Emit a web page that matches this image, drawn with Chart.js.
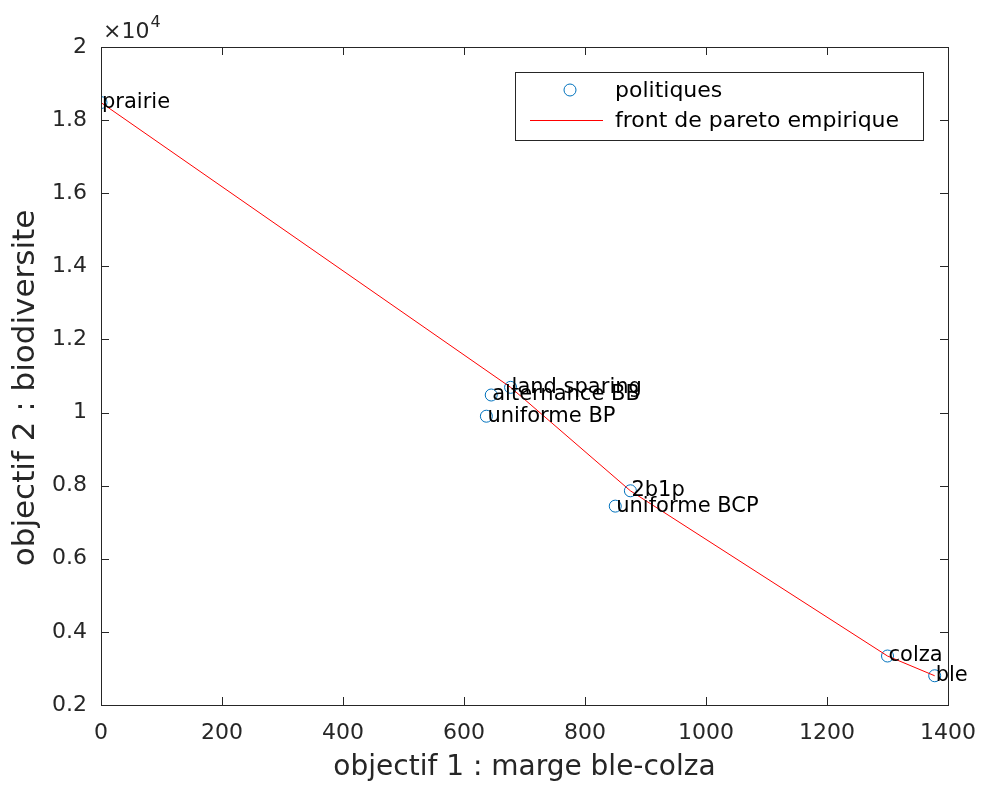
<!DOCTYPE html>
<html>
<head>
<meta charset="utf-8">
<script src="https://cdn.jsdelivr.net/npm/chart.js@4"></script>
<style>
  html, body { margin: 0; padding: 0; background: #fff; }
  #wrap { width: 983px; height: 787px; }
</style>
</head>
<body>
<div id="wrap"><canvas id="chart"></canvas></div>
<script>
// ── Data ─────────────────────────────────────────────────

const policyNames = ["prairie", "land sparing", "alternance BB", "uniforme BP", "2b1p", "uniforme BCP", "colza", "ble"];
const policyMarge = [0, 677, 645, 637, 875, 850, 1300, 1378];
const policyBiodiv = [18480, 10690, 10480, 9900, 7860, 7440, 3340, 2800];

const frontMarge = [0, 677, 875, 1300, 1378];
const frontBiodiv = [18480, 10690, 7860, 3340, 2800];

const xTicks = [0, 200, 400, 600, 800, 1000, 1200, 1400];
const yTicks = [2000, 4000, 6000, 8000, 10000, 12000, 14000, 16000, 18000, 20000];

const FONT = "'DejaVu Sans', sans-serif";
const AXIS_COLOR = "#262626";
const BLUE = "#0072BD";
const RED = "#FF0000";

// ── Plugins ──────────────────────────────────────────────

// box around the axes + inward ticks on all four sides (matlab style)
const boxPlugin = {
  id: "box",
  afterDatasetsDraw(chart) {
    const { ctx, chartArea: a, scales: { x, y } } = chart;
    const len = 8;
    ctx.save();
    ctx.strokeStyle = AXIS_COLOR;
    ctx.lineWidth = 1;
    ctx.beginPath();
    for (const t of xTicks) {
      const px = Math.round(x.getPixelForValue(t)) + 0.5;
      ctx.moveTo(px, a.bottom); ctx.lineTo(px, a.bottom - len);
      ctx.moveTo(px, a.top);    ctx.lineTo(px, a.top + len);
    }
    for (const t of yTicks) {
      const py = Math.round(y.getPixelForValue(t)) + 0.5;
      ctx.moveTo(a.left, py);  ctx.lineTo(a.left + len, py);
      ctx.moveTo(a.right, py); ctx.lineTo(a.right - len, py);
    }
    ctx.stroke();
    ctx.strokeRect(Math.round(a.left) + 0.5, Math.round(a.top) + 0.5,
                   Math.round(a.right - a.left), Math.round(a.bottom - a.top));

    // x10^4 exponent above the y axis
    ctx.fillStyle = AXIS_COLOR;
    ctx.textAlign = "left";
    ctx.textBaseline = "alphabetic";
    ctx.font = `22px ${FONT}`;
    ctx.fillText("\u00d710", a.left + 2, a.top - 9);
    const w = ctx.measureText("\u00d710").width;
    ctx.font = `16px ${FONT}`;
    ctx.fillText("4", a.left + 3 + w, a.top - 20);

    // y axis title (drawn by hand so it can sit a bit below the axis centre)
    ctx.save();
    ctx.translate(26, 388);
    ctx.rotate(-Math.PI / 2);
    ctx.textAlign = "center";
    ctx.textBaseline = "middle";
    ctx.font = `31px ${FONT}`;
    ctx.fillText("objectif 2 : biodiversite", 0, 0);
    ctx.restore();
    ctx.restore();
  }
};

// text labels next to each policy point
const labelPlugin = {
  id: "pointLabels",
  afterDatasetsDraw(chart) {
    const { ctx, scales: { x, y } } = chart;
    ctx.save();
    ctx.font = `21px ${FONT}`;
    ctx.fillStyle = "#000";
    ctx.textAlign = "left";
    ctx.textBaseline = "middle";
    policyNames.forEach((name, i) => {
      ctx.fillText(name, x.getPixelForValue(policyMarge[i]) + 1, y.getPixelForValue(policyBiodiv[i]));
    });
    ctx.restore();
  }
};

// legend box in the upper right
const legendPlugin = {
  id: "matLegend",
  afterDraw(chart) {
    const { ctx } = chart;
    const ds = chart.data.datasets;
    const bx = 515, by = 72, bw = 408, bh = 68;
    ctx.save();
    ctx.fillStyle = "#fff";
    ctx.fillRect(bx, by, bw, bh);
    ctx.strokeStyle = AXIS_COLOR;
    ctx.lineWidth = 1;
    ctx.strokeRect(bx + 0.5, by + 0.5, bw, bh);

    // marker sample
    ctx.strokeStyle = ds[0].borderColor;
    ctx.beginPath();
    ctx.arc(570, 90, 6, 0, Math.PI * 2);
    ctx.stroke();
    // line sample
    ctx.strokeStyle = ds[1].borderColor;
    ctx.beginPath();
    ctx.moveTo(530, 120.5); ctx.lineTo(603, 120.5);
    ctx.stroke();

    ctx.fillStyle = "#000";
    ctx.font = `22px ${FONT}`;
    ctx.textAlign = "left";
    ctx.textBaseline = "middle";
    ctx.fillText(ds[0].label, 615, 91);
    ctx.fillText(ds[1].label, 615, 121);
    ctx.restore();
  }
};

// ── Chart ────────────────────────────────────────────────

new Chart(document.getElementById("chart"), {
  type: "scatter",
  data: {
    datasets: [
      {
        label: "politiques",
        data: policyMarge.map((v, i) => ({ x: v, y: policyBiodiv[i] })),
        borderColor: BLUE,
        backgroundColor: "rgba(0,0,0,0)",
        pointStyle: "circle",
        pointRadius: 6,
        pointHoverRadius: 6,
        borderWidth: 1,
        showLine: false,
        order: 1
      },
      {
        label: "front de pareto empirique",
        data: frontMarge.map((v, i) => ({ x: v, y: frontBiodiv[i] })),
        borderColor: RED,
        backgroundColor: RED,
        borderWidth: 1,
        pointRadius: 0,
        showLine: true,
        tension: 0,
        order: 0
      }
    ]
  },
  options: {
    responsive: true,
    maintainAspectRatio: false,
    animation: false,
    events: [],
    layout: { padding: { top: 47, right: 35, left: 0, bottom: 0 } },
    plugins: {
      legend: { display: false },
      tooltip: { enabled: false }
    },
    scales: {
      x: {
        type: "linear",
        min: 0,
        max: 1400,
        afterFit: (s) => { s.height = 82; },
        afterBuildTicks: (s) => { s.ticks = xTicks.map(v => ({ value: v })); },
        // tick marks are drawn by the box plugin; tickLength only pushes labels down
        grid: { display: false, drawTicks: true, tickLength: 10 },
        border: { display: false },
        ticks: {
          color: AXIS_COLOR,
          font: { family: FONT, size: 22 },
          padding: 5,
          maxRotation: 0,
          callback: (v) => String(v)
        },
        title: {
          display: true,
          text: "objectif 1 : marge ble-colza",
          color: AXIS_COLOR,
          font: { family: FONT, size: 28 },
          padding: { top: 0, bottom: 2 }
        }
      },
      y: {
        type: "linear",
        min: 2000,
        max: 20000,
        afterFit: (s) => { s.width = 101; },
        afterBuildTicks: (s) => { s.ticks = yTicks.map(v => ({ value: v })); },
        grid: { display: false, drawTicks: false },
        border: { display: false },
        ticks: {
          color: AXIS_COLOR,
          font: { family: FONT, size: 22 },
          padding: 14,
          callback: (v) => String(v / 10000)
        },
        title: { display: false }
      }
    }
  },
  plugins: [boxPlugin, labelPlugin, legendPlugin]
});
</script>
</body>
</html>
